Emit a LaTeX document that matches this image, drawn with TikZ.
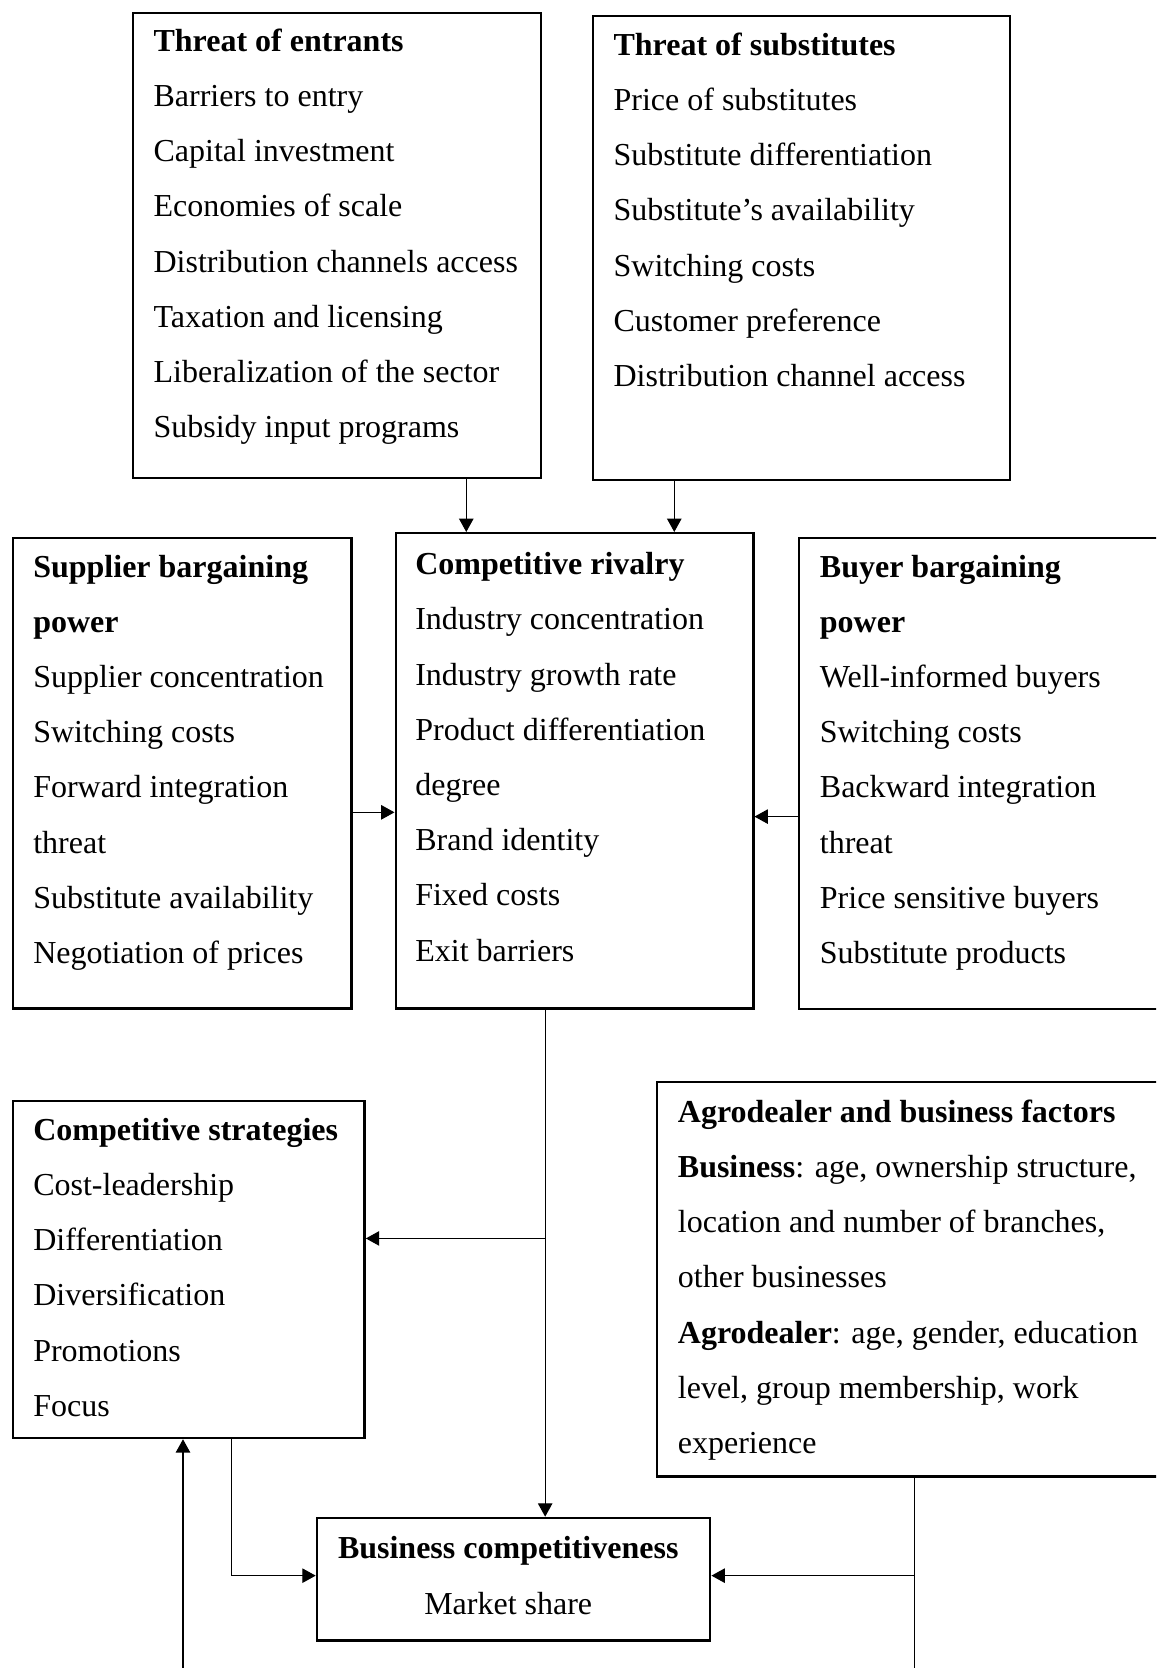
\documentclass[tikz,border=0pt]{standalone}
\usepackage{fontspec}
\setmainfont{Liberation Serif}
\usetikzlibrary{positioning,arrows.meta}

\begin{document}
\begin{tikzpicture}[x=0.375pt, y=-0.375pt, >={Triangle[length=5pt,width=5.4pt]},
box/.style={draw, line width=0.9pt, inner sep=0pt, anchor=north west},
txt/.style={inner sep=0pt, align=left, font=\fontsize{12}{20.7}\selectfont},
link/.style={line width=0.45pt}]
\useasboundingbox (0,0) rectangle (1156,1668);
\clip (0,0) rectangle (1156,1668);

% the eight boxes
\node[box, minimum width=153pt, minimum height=174.5pt] (entrants) at (132,11.7) {};
\node[box, minimum width=156.2pt, minimum height=174pt] (substitutes) at (592,15) {};
\node[box, minimum width=126.9pt, minimum height=176.4pt] (supplier) at (11.7,537) {};
\node[box, minimum width=134.1pt, minimum height=178.2pt] (rivalry) at (394.5,532) {};
\node[box, minimum width=142.5pt, minimum height=176.6pt] (buyer) at (797.5,537) {};
\node[box, minimum width=131.9pt, minimum height=126.5pt] (strategies) at (11.7,1099.5) {};
\node[box, minimum width=195pt, minimum height=147.9pt] (agro) at (655.5,1081) {};
\node[box, minimum width=147.5pt, minimum height=45.9pt] (business) at (315.7,1516.7) {};

% box texts
\node[txt, below right=6.2pt and 7.9pt of entrants.north west] (entrants-t)
  {\textbf{Threat of entrants}\\ Barriers to entry\\ Capital investment\\ Economies of scale\\
   Distribution channels access\\ Taxation and licensing\\ Liberalization of the sector\\ Subsidy input programs};
\node[txt, below right=6.5pt and 7.9pt of substitutes.north west] (substitutes-t)
  {\textbf{Threat of substitutes}\\ Price of substitutes\\ Substitute differentiation\\
   Substitute’s availability\\ Switching costs\\ Customer preference\\ Distribution channel access};
\node[txt, below right=6.5pt and 7.9pt of supplier.north west] (supplier-t)
  {\textbf{Supplier bargaining}\\ \textbf{power}\\ Supplier concentration\\ Switching costs\\
   Forward integration\\ threat\\ Substitute availability\\ Negotiation of prices};
\node[txt, below right=7.5pt and 7.6pt of rivalry.north west] (rivalry-t)
  {\textbf{Competitive rivalry}\\ Industry concentration\\ Industry growth rate\\ Product differentiation\\
   degree\\ Brand identity\\ Fixed costs\\ Exit barriers};
\node[txt, below right=6.5pt and 8.2pt of buyer.north west] (buyer-t)
  {\textbf{Buyer bargaining}\\ \textbf{power}\\ Well-informed buyers\\ Switching costs\\
   Backward integration\\ threat\\ Price sensitive buyers\\ Substitute products};
\node[txt, below right=6.8pt and 7.9pt of strategies.north west] (strategies-t)
  {\textbf{Competitive strategies}\\ Cost-leadership\\ Differentiation\\ Diversification\\ Promotions\\ Focus};
\node[txt, below right=6.8pt and 8.2pt of agro.north west] (agro-t)
  {\textbf{Agrodealer and business factors}\\ \textbf{Business}: age, ownership structure,\\
   location and number of branches,\\ other businesses\\ \textbf{Agrodealer}: age, gender, education\\
   level, group membership, work\\ experience};
\node[txt, align=center, below=7.3pt of business.north, xshift=-2pt] (business-t)
  {\textbf{Business competitiveness}\\ Market share};

% connectors
\coordinate (e) at ([xshift=48.4pt]entrants.south);
\coordinate (s) at ([xshift=-47.7pt]substitutes.south);
\draw[link,->] (e) -- (e |- rivalry.north);
\draw[link,->] (s) -- (s |- rivalry.north);
\coordinate (sp) at ([yshift=-14.6pt]supplier.east);
\coordinate (by) at ([yshift=-16.1pt]buyer.west);
\draw[link,->] (sp) -- (sp -| rivalry.west);
\draw[link,->] (by) -- (by -| rivalry.east);

\coordinate (r) at ([xshift=-11pt]rivalry.south);
\coordinate (cs) at ([yshift=11.6pt]strategies.east);
\draw[link,->] (r) -- (r |- business.north);
\draw[link,->] (r |- cs) -- (cs);

\coordinate (bw) at ([yshift=1.3pt]business.west);
\coordinate (be) at ([yshift=1.3pt]business.east);
\coordinate (st) at ([xshift=15.9pt]strategies.south);
\draw[link,->] (st) |- (bw);
\coordinate (feed) at (183,1680);
\draw[link,->] (feed) -- (feed |- strategies.south);

\coordinate (a) at ([xshift=-0.8pt]agro.south);
\draw[link] (a) -- (a |- feed);
\draw[link,->] (a |- be) -- (be);
\end{tikzpicture}
\end{document}
